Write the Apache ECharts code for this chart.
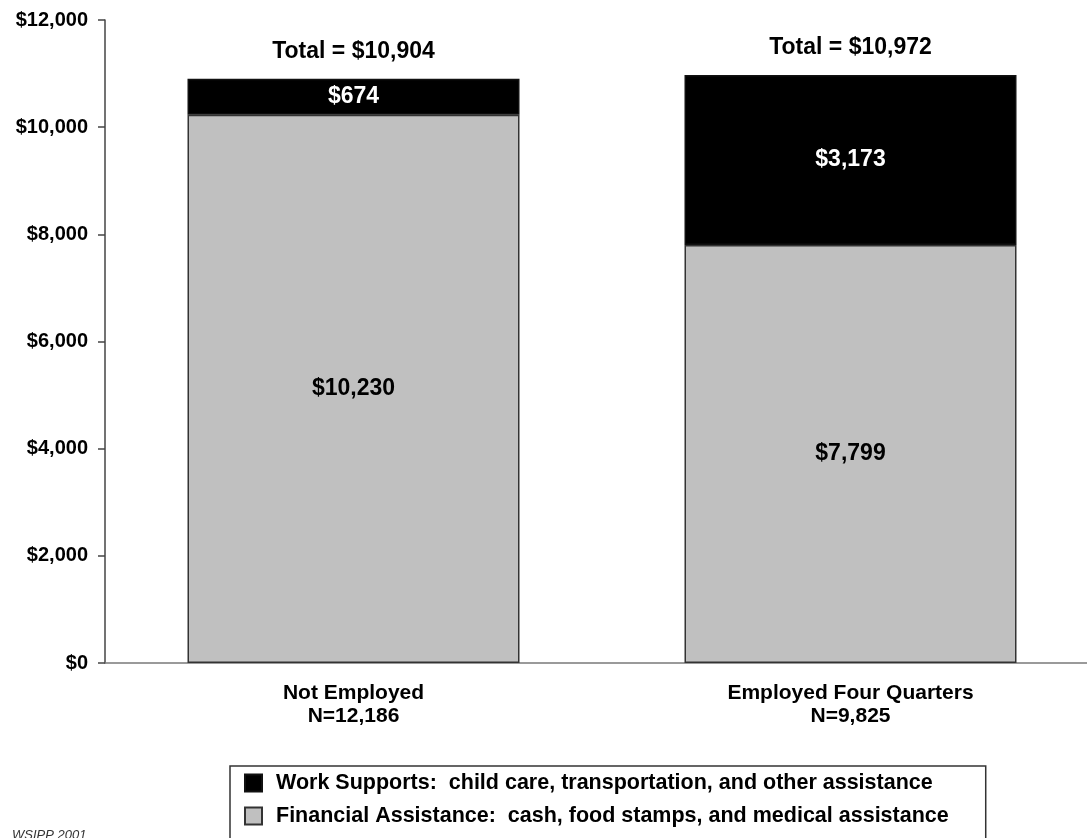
<!DOCTYPE html>
<html>
<head>
<meta charset="utf-8">
<script src="https://cdn.jsdelivr.net/npm/echarts@6/dist/echarts.min.js"></script>
<style>
  html, body { margin: 0; padding: 0; background: #fff; overflow: hidden; }
  /* the category axis runs a little past the right edge of the page */
  #chart { width: 1099px; height: 838px; }
</style>
</head>
<body>
<div id="chart"></div>
<script>
// Annual assistance per case, by employment status
const categories = ['Not Employed\nN=12,186', 'Employed Four Quarters\nN=9,825'];
const financialAssistance = [10230, 7799];
const workSupports = [674, 3173];
const totals = [10904, 10972];
const yTicks = { min: 0, max: 12000, interval: 2000 };

const seriesNames = {
  work: 'Work Supports:  child care, transportation, and other assistance',
  fin: 'Financial Assistance:  cash, food stamps, and medical assistance'
};

const money = v => '$' + Number(v).toLocaleString('en-US');
const FONT = '"Liberation Sans", Arial, Helvetica, sans-serif';

const chart = echarts.init(document.getElementById('chart'), null, { renderer: 'canvas' });

chart.setOption({
  backgroundColor: '#ffffff',
  animation: false,
  textStyle: { fontFamily: FONT },
  grid: { left: 105, top: 20, right: 0, bottom: 175, containLabel: false },
  xAxis: {
    type: 'category',
    data: categories,
    axisLine: { lineStyle: { color: '#7a7a7a', width: 1.5 } },
    axisTick: { show: false },
    axisLabel: {
      margin: 19,
      fontFamily: FONT,
      fontWeight: 'bold',
      fontSize: 21,
      lineHeight: 23,
      color: '#000'
    }
  },
  yAxis: {
    type: 'value',
    min: yTicks.min,
    max: yTicks.max,
    interval: yTicks.interval,
    splitLine: { show: false },
    axisLine: { show: true, lineStyle: { color: '#444', width: 1.5 } },
    axisTick: { show: true, length: 7, lineStyle: { color: '#444', width: 1.5 } },
    axisLabel: {
      margin: 17,
      fontFamily: FONT,
      fontWeight: 'bold',
      fontSize: 20,
      color: '#000',
      formatter: money
    }
  },
  legend: {
    orient: 'vertical',
    left: 230,
    top: 766,
    height: 120,
    data: [
      { name: seriesNames.work, icon: 'rect' },
      { name: seriesNames.fin, icon: 'rect' }
    ],
    itemWidth: 17,
    itemHeight: 17,
    itemGap: 11,
    padding: [6, 37, 20, 14],
    borderColor: '#333',
    borderWidth: 1.5,
    selectedMode: false,
    textStyle: {
      fontFamily: FONT,
      fontWeight: 'bold',
      fontSize: 21.5,
      lineHeight: 21,
      color: '#000',
      padding: [0, 0, 0, 9]
    }
  },
  series: [
    {
      name: seriesNames.fin,
      type: 'bar',
      stack: 'total',
      barWidth: 332,
      data: financialAssistance,
      itemStyle: { color: '#c0c0c0', borderColor: '#333', borderWidth: 1.5 },
      label: {
        show: true,
        position: 'inside',
        fontFamily: FONT,
        fontWeight: 'bold',
        fontSize: 23,
        color: '#000',
        formatter: p => money(p.value)
      }
    },
    {
      name: seriesNames.work,
      type: 'bar',
      stack: 'total',
      barWidth: 332,
      data: workSupports,
      itemStyle: { color: '#000', borderColor: '#111', borderWidth: 1.5 },
      label: {
        show: true,
        position: 'inside',
        fontFamily: FONT,
        fontWeight: 'bold',
        fontSize: 23,
        color: '#fff',
        formatter: p => money(p.value)
      }
    },
    {
      // zero-height cap on each stack, carrying the total above the bar
      name: 'Total',
      type: 'bar',
      stack: 'total',
      barWidth: 332,
      data: totals.map(() => 0),
      itemStyle: { color: 'rgba(0,0,0,0)', borderWidth: 0 },
      silent: true,
      label: {
        show: true,
        position: 'top',
        distance: 16,
        fontFamily: FONT,
        fontWeight: 'bold',
        fontSize: 23,
        color: '#000',
        formatter: p => 'Total = ' + money(totals[p.dataIndex])
      }
    }
  ],
  graphic: [
    {
      type: 'text',
      left: 12,
      top: 829,
      style: {
        text: 'WSIPP 2001',
        font: 'italic 13px ' + FONT,
        fill: '#333'
      }
    }
  ]
});
</script>
</body>
</html>
